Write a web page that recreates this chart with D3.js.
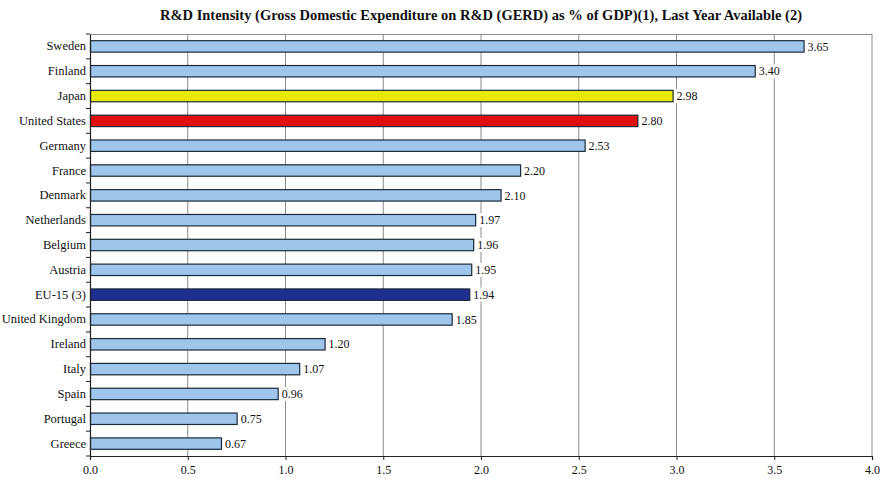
<!DOCTYPE html>
<html>
<head>
<meta charset="utf-8">
<script src="https://cdn.jsdelivr.net/npm/d3@7"></script>
<style>
  body { margin: 0; background: #fff; }
  svg { display: block; }
  svg text { font-family: "Liberation Serif", "Times New Roman", serif !important; }
</style>
</head>
<body>
<svg id="chart" width="886" height="479"></svg>
<script>
// R&D intensity by country (GERD as % of GDP)
const countries = ["Sweden", "Finland", "Japan", "United States", "Germany", "France", "Denmark",
  "Netherlands", "Belgium", "Austria", "EU-15 (3)", "United Kingdom", "Ireland", "Italy",
  "Spain", "Portugal", "Greece"];
const values = [3.65, 3.40, 2.98, 2.80, 2.53, 2.20, 2.10, 1.97, 1.96, 1.95, 1.94, 1.85, 1.20, 1.07, 0.96, 0.75, 0.67];
const xTicks = [0, 0.5, 1.0, 1.5, 2.0, 2.5, 3.0, 3.5, 4.0];
const highlight = { "Japan": "#e8e800", "United States": "#e01010", "EU-15 (3)": "#1f2f8f" };
const title = "R&D Intensity (Gross Domestic Expenditure on R&D (GERD) as % of GDP)(1), Last Year Available (2)";

const svg = d3.select("#chart");
const margin = { top: 34, right: 14, bottom: 23, left: 90 };
const W = 886, H = 479;
const iw = W - margin.left - margin.right;
const ih = H - margin.top - margin.bottom;

const x = d3.scaleLinear().domain([0, 4]).range([0, iw]);
const y = d3.scaleBand().domain(countries).range([0, ih]).paddingInner(0.54).paddingOuter(0.27);

svg.append("text")
  .attr("x", 481).attr("y", 20)
  .attr("text-anchor", "middle")
  .attr("font-size", 14.5).attr("font-weight", "bold")
  .attr("fill", "#111")
  .text(title);

const g = svg.append("g").attr("transform", `translate(${margin.left},${margin.top})`);

// gridlines and top border
g.selectAll("line.grid").data(xTicks.slice(1)).join("line")
  .attr("class", "grid")
  .attr("x1", d => x(d)).attr("x2", d => x(d))
  .attr("y1", 0).attr("y2", ih)
  .attr("stroke", "#8c8c8c").attr("stroke-width", 1);
g.append("line").attr("x1", 0).attr("x2", iw).attr("y1", 0.5).attr("y2", 0.5)
  .attr("stroke", "#8c8c8c");

// bars
g.selectAll("rect.bar").data(countries).join("rect")
  .attr("class", "bar")
  .attr("x", 0.5)
  .attr("y", d => y(d))
  .attr("width", (d, i) => x(values[i]))
  .attr("height", y.bandwidth())
  .attr("fill", d => highlight[d] || "#9fc5ea")
  .attr("stroke", "#1a2a3a").attr("stroke-width", 1.2);

// value labels with white backing
const lab = g.selectAll("g.val").data(countries).join("g")
  .attr("class", "val")
  .attr("transform", (d, i) => `translate(${x(values[i]) + 3},${y(d) + y.bandwidth() / 2})`);
lab.append("rect").attr("x", 0).attr("y", -7).attr("width", 25).attr("height", 14).attr("fill", "#fff");
lab.append("text")
  .attr("x", 1).attr("dy", "0.35em")
  .attr("font-size", 12).attr("fill", "#111")
  .text((d, i) => values[i].toFixed(2));

// y axis
const yAxis = g.append("g")
  .call(d3.axisLeft(y).tickSize(0).tickPadding(4));
yAxis.select(".domain").attr("stroke", "#222").attr("stroke-width", 1.2);
yAxis.selectAll("text").attr("font-size", 12.5).attr("fill", "#111");

// tick marks between categories
const step = y.step();
const gap = step - y.bandwidth();
g.selectAll("line.ytick").data(d3.range(countries.length + 1)).join("line")
  .attr("class", "ytick")
  .attr("x1", -4).attr("x2", 0)
  .attr("y1", i => (i === 0 ? 0 : i === countries.length ? ih : y(countries[i]) - gap / 2))
  .attr("y2", i => (i === 0 ? 0 : i === countries.length ? ih : y(countries[i]) - gap / 2))
  .attr("stroke", "#222");

// x axis
const xAxis = g.append("g").attr("transform", `translate(0,${ih})`)
  .call(d3.axisBottom(x).tickValues(xTicks).tickFormat(d3.format(".1f")).tickSize(4).tickPadding(5));
xAxis.select(".domain").attr("stroke", "#222").attr("stroke-width", 1.2);
xAxis.selectAll("line").attr("stroke", "#222");
xAxis.selectAll("text").attr("font-size", 12).attr("fill", "#111");
</script>
</body>
</html>
